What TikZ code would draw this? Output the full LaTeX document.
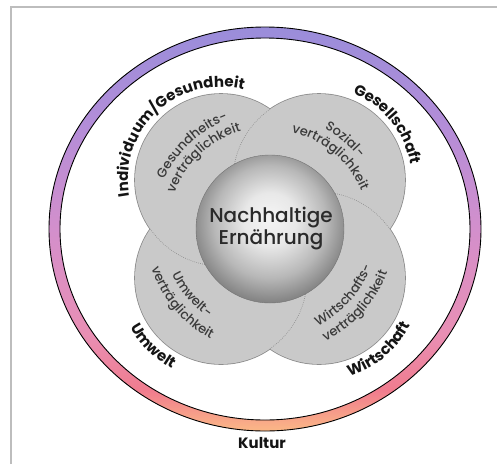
\documentclass[tikz,border=0pt]{standalone}
\usepackage{fontspec}
\setmainfont{Poppins}
\newfontfamily\poppinsmedium{Poppins Medium}
\usetikzlibrary{decorations.text}

\definecolor{framegray}{HTML}{BDBDBD}
\definecolor{lobegray}{HTML}{C9C9C9}
\definecolor{lobeedge}{HTML}{8C8C8C}
\definecolor{seamgray}{HTML}{8A8A8A}
\definecolor{innertext}{HTML}{3A3A3A}
\definecolor{outertext}{HTML}{141414}
\definecolor{centertext}{HTML}{2A2A2A}
\definecolor{ringtop}{HTML}{9A8DDA}
\definecolor{ringupper}{HTML}{B38DD8}
\definecolor{ringmid}{HTML}{D38FCC}
\definecolor{ringlower}{HTML}{E98FB4}
\definecolor{ringred}{HTML}{F07C8E}
\definecolor{ringbottom}{HTML}{FBB886}

\pgfdeclareverticalshading{ringshade}{100bp}{color(0bp)=(ringbottom); color(25bp)=(ringbottom); color(30bp)=(ringred); color(37bp)=(ringlower); color(50bp)=(ringmid); color(63bp)=(ringupper); color(75bp)=(ringtop); color(100bp)=(ringtop)}
\pgfdeclareradialshading{sphereshade}{\pgfpoint{0bp}{4bp}}{color(0bp)=(black!4); color(9bp)=(black!9); color(19bp)=(black!28); color(26bp)=(black!47); color(31bp)=(black!58); color(50bp)=(black!58)}

\newcommand{\outerfont}{\fontsize{15}{17}\selectfont\bfseries}
\newcommand{\innerfont}{\poppinsmedium\fontsize{13}{15}\selectfont}

\tikzset{
  lobeedge/.style={draw=lobeedge, line width=1.6pt},
  lobefill/.style={fill=lobegray},
  seam/.style={draw=seamgray, line width=0.6pt, dash pattern=on 0.7pt off 1.3pt},
  outerlabel/.style={decorate, decoration={text along path, text align=center, text color=outertext, text={|\outerfont|#1}}},
  innerlabel/.style={decorate, decoration={text along path, text align=center, text color=innertext, text={|\innerfont|#1}}},
}

\begin{document}
\begin{tikzpicture}[x=1pt, y=1pt]
  \useasboundingbox (-270,-235) rectangle (227,229);

  % Frame
  \draw[framegray, line width=1.5pt] (-259,-235) -- (-259,222) -- (227,222);

  % Ring
  \shade[shading=ringshade, even odd rule] (-5,0) ellipse[x radius=216pt, y radius=202pt]
    (-5,0) ellipse[x radius=205pt, y radius=191pt];
  \draw[black, line width=0.9pt] (-5,0) ellipse[x radius=216pt, y radius=202pt];
  \draw[black, line width=0.9pt] (-5,0) ellipse[x radius=205pt, y radius=191pt];

  % Lobes
  \coordinate (lobeTL) at (-49,49);
  \coordinate (lobeTR) at (49,49);
  \coordinate (lobeBL) at (-49,-49);
  \coordinate (lobeBR) at (49,-49);
  \foreach \lobe in {lobeTL,lobeTR,lobeBL,lobeBR}
    \path[lobeedge] (\lobe) circle[radius=86pt];
  \foreach \lobe in {lobeTL,lobeTR,lobeBL,lobeBR}
    \path[lobefill] (\lobe) circle[radius=86pt];

  % Seams between lobes
  \draw[seam] (lobeTR) ++(124.7:86pt) arc[start angle=124.7, end angle=172, radius=86pt];
  \draw[seam] (lobeBR) ++(34.7:86pt) arc[start angle=34.7, end angle=82, radius=86pt];
  \draw[seam] (lobeBL) ++(-55.3:86pt) arc[start angle=-55.3, end angle=-8, radius=86pt];
  \draw[seam] (lobeTL) ++(-145.3:86pt) arc[start angle=-145.3, end angle=-98, radius=86pt];

  % Sphere
  \shade[shading=sphereshade, draw=black!55, line width=0.4pt] (0,0) circle[radius=74pt];
  \node[align=center, font=\poppinsmedium\fontsize{20}{22}\selectfont, text=centertext] (ernaehrung) at (1,0) {Nachhaltige\\Ernährung};

  % Lobe labels
  \path[innerlabel={Gesundheits-}] (193:117pt) arc[start angle=193, end angle=73, radius=117pt];
  \path[innerlabel={verträglichkeit}] (193:102pt) arc[start angle=193, end angle=73, radius=102pt];
  \path[innerlabel={Sozial-}] (110:114pt) arc[start angle=110, end angle=-10, radius=114pt];
  \path[innerlabel={verträglichkeit}] (110:99pt) arc[start angle=110, end angle=-10, radius=99pt];
  \path[innerlabel={Umwelt-}] (160:108pt) arc[start angle=160, end angle=280, radius=108pt];
  \path[innerlabel={verträglichkeit}] (160:125pt) arc[start angle=160, end angle=280, radius=125pt];
  \path[innerlabel={Wirtschafts-}] (258:108pt) arc[start angle=258, end angle=378, radius=108pt];
  \path[innerlabel={verträglichkeit}] (258:125pt) arc[start angle=258, end angle=378, radius=125pt];

  % Outer labels
  \path[outerlabel={Individuum/Gesundheit}, shift={(lobeTL)}] (213:93pt) arc[start angle=213, end angle=53, radius=93pt];
  \path[outerlabel={Gesellschaft}, shift={(lobeTR)}] (119:93pt) arc[start angle=119, end angle=-41, radius=93pt];
  \path[outerlabel={Umwelt}, shift={(lobeBL)}] (165:103pt) arc[start angle=165, end angle=285, radius=103pt];
  \path[outerlabel={Wirtschaft}, shift={(lobeBR)}] (250:103pt) arc[start angle=250, end angle=370, radius=103pt];
  \node[font=\outerfont, text=outertext] (kultur) at (-8,-214) {Kultur};
\end{tikzpicture}
\end{document}
